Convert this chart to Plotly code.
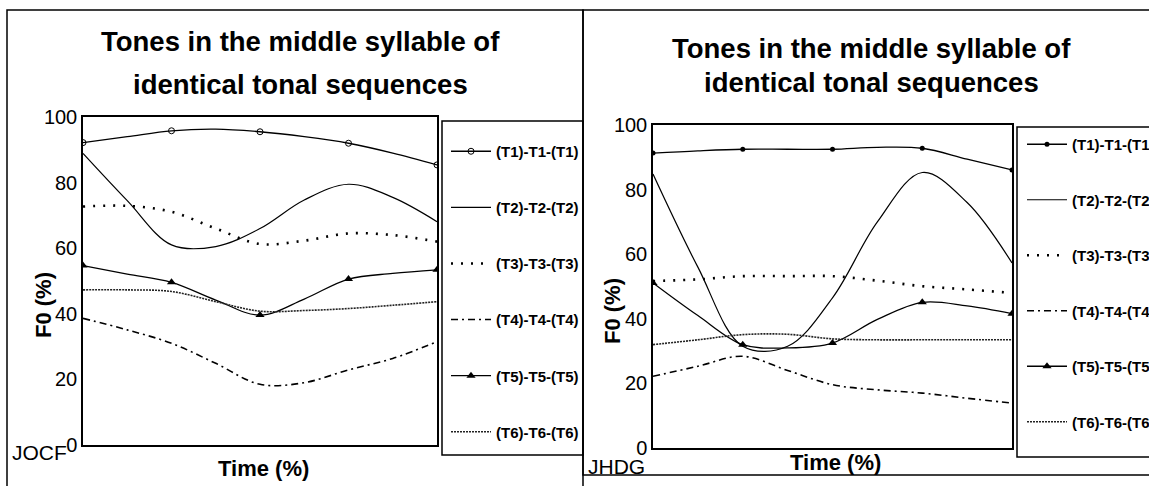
import plotly.graph_objects as go

W, H = 1149, 486

# ---------------- data ----------------
time_pct = [0, 12.5, 25, 37.5, 50, 62.5, 75, 87.5, 100]
series_names = ["(T1)-T1-(T1)", "(T2)-T2-(T2)", "(T3)-T3-(T3)",
                "(T4)-T4-(T4)", "(T5)-T5-(T5)", "(T6)-T6-(T6)"]

# speaker JOCF (left panel)
jocf_t1 = [92.2, 94.0, 95.8, 96.3, 95.5, 94.0, 92.0, 89.0, 85.4]
jocf_t2 = [88.9, 74.5, 61.0, 60.5, 66.0, 74.7, 79.5, 75.5, 68.1]
jocf_t3 = [72.7, 72.9, 71.1, 66.0, 61.3, 62.3, 64.5, 64.0, 62.0]
jocf_t4 = [38.6, 35.1, 31.0, 24.9, 18.5, 19.0, 22.9, 26.4, 31.5]
jocf_t5 = [54.7, 52.1, 49.6, 44.2, 39.6, 44.5, 50.6, 52.3, 53.4]
jocf_t6 = [47.3, 47.3, 46.8, 43.7, 40.8, 41.0, 41.6, 42.6, 43.7]

# speaker JHDG (right panel)
jhdg_t1 = [91.3, 92.0, 92.5, 92.5, 92.5, 93.1, 92.8, 89.4, 86.1]
jhdg_t2 = [84.8, 56.0, 31.5, 31.5, 46.5, 70.0, 85.3, 76.0, 57.3]
jhdg_t3 = [51.7, 52.2, 53.2, 53.2, 53.2, 51.8, 50.1, 49.1, 48.0]
jhdg_t4 = [22.2, 25.3, 28.4, 24.0, 19.6, 18.0, 17.0, 15.4, 13.9]
jhdg_t5 = [51.1, 41.0, 32.0, 31.0, 32.5, 39.8, 45.1, 44.0, 41.6]
jhdg_t6 = [32.0, 33.5, 35.1, 35.2, 33.8, 33.5, 33.5, 33.5, 33.5]

y_ticks = [0, 20, 40, 60, 80, 100]
title_lines = ["Tones in the middle syllable of", "identical tonal sequences"]
speakers = ["JOCF", "JHDG"]

# ---------------- style ----------------
SANS = "Liberation Sans, Arial, sans-serif"


def px_x(p):
    return p / W


def px_y(p):
    return 1 - p / H


def key_symbols(sym):
    # marker only at the five measurement points, invisible elsewhere
    return [sym if i % 2 == 0 else "line-ns" for i in range(len(time_pct))]


styles = [
    dict(line=dict(color="black", width=1.3), mode="lines+markers", sym="circle-open", size=6),
    dict(line=dict(color="black", width=1.2), mode="lines", sym=None, size=0),
    dict(line=dict(color="black", width=2.6, dash="2px,8px"), mode="lines", sym=None, size=0),
    dict(line=dict(color="black", width=1.6, dash="7px,4px,2px,4px"), mode="lines", sym=None, size=0),
    dict(line=dict(color="black", width=1.3), mode="lines+markers", sym="triangle-up", size=8),
    dict(line=dict(color="#222222", width=1.6, dash="2px,1px"), mode="lines", sym=None, size=0),
]
styles_right = [dict(s) for s in styles]
styles_right[0] = dict(line=dict(color="black", width=1.3), mode="lines+markers", sym="circle", size=5)

fig = go.Figure()

panels = [
    ([jocf_t1, jocf_t2, jocf_t3, jocf_t4, jocf_t5, jocf_t6], "x", "y", "legend", styles),
    ([jhdg_t1, jhdg_t2, jhdg_t3, jhdg_t4, jhdg_t5, jhdg_t6], "x2", "y2", "legend2", styles_right),
]

for pi, (data, xa, ya, lg, sty) in enumerate(panels):
    for i, (name, vals) in enumerate(zip(series_names, data)):
        s = sty[i]
        kw = dict(x=time_pct, y=vals, name=name, xaxis=xa, yaxis=ya, legend=lg,
                  legendgroup=f"{lg}_{i}", mode=s["mode"],
                  line=dict(shape="spline", smoothing=1.0, **s["line"]),
                  hoverinfo="skip")
        if s["sym"]:
            kw["marker"] = dict(symbol=key_symbols(s["sym"]), size=s["size"],
                                color="black", line=dict(width=0))
        fig.add_trace(go.Scatter(**kw))

axis_common = dict(range=[0, 100], showgrid=False, zeroline=False, showline=True,
                   linecolor="black", linewidth=1.5, mirror=True)

left_dom_x = [px_x(83), px_x(437)]
left_dom_y = [px_y(445), px_y(117)]
right_dom_x = [px_x(653), px_x(1012)]
right_dom_y = [px_y(448), px_y(125)]

tickfont = dict(family=SANS, size=20, color="black")
legfont = dict(family=SANS, size=15, color="black", weight="bold")

fig.update_layout(
    width=W, height=H,
    margin=dict(l=0, r=0, t=0, b=0, autoexpand=False),
    paper_bgcolor="white", plot_bgcolor="white",
    xaxis=dict(domain=left_dom_x, showticklabels=False, ticks="", anchor="y", **axis_common),
    yaxis=dict(domain=left_dom_y, anchor="x", tickvals=y_ticks, ticks="", tickfont=tickfont,
               **axis_common),
    xaxis2=dict(domain=right_dom_x, showticklabels=False, ticks="", anchor="y2", **axis_common),
    yaxis2=dict(domain=right_dom_y, anchor="x2", tickvals=y_ticks, ticks="", tickfont=tickfont,
                **axis_common),
    legend=dict(x=px_x(446), y=px_y(135), xanchor="left", yanchor="top",
                bgcolor="rgba(0,0,0,0)", borderwidth=0, tracegroupgap=33.6,
                itemwidth=40, font=legfont),
    legend2=dict(x=px_x(1022), y=px_y(128), xanchor="left", yanchor="top",
                 bgcolor="rgba(0,0,0,0)", borderwidth=0, tracegroupgap=33,
                 itemwidth=40, font=legfont),
    showlegend=True,
)

# panel frames and legend boxes
frames = [
    (7, 10, 583, 495),
    (583, 10, 1160, 475),
    (442, 121, 583, 455),
    (1017, 127, 1160, 457),
]
for x0, y0, x1, y1 in frames:
    fig.add_shape(type="rect", xref="paper", yref="paper",
                  x0=px_x(x0), x1=px_x(x1), y0=px_y(y1), y1=px_y(y0),
                  line=dict(color="black", width=1.5), fillcolor="rgba(0,0,0,0)", layer="above")

ann = []
# titles
for cx, ys in [(300, (41, 84)), (871, (48, 82))]:
    for line, yy in zip(title_lines, ys):
        ann.append(dict(text=line, x=px_x(cx), y=px_y(yy), xanchor="center", yanchor="middle",
                        font=dict(family=SANS, size=27.5, color="black", weight="bold")))
# axis titles
for cx, cy in [(43, 305), (612, 311)]:
    ann.append(dict(text="F0 (%)", x=px_x(cx), y=px_y(cy), textangle=-90,
                    xanchor="center", yanchor="middle",
                    font=dict(family=SANS, size=22, color="black", weight="bold")))
for cx, cy in [(263, 468), (835, 462)]:
    ann.append(dict(text="Time (%)", x=px_x(cx), y=px_y(cy), xanchor="center", yanchor="middle",
                    font=dict(family=SANS, size=22, color="black", weight="bold")))
# speaker labels
for sp, lx, cy in [(speakers[0], 10, 452), (speakers[1], 586, 466)]:
    ann.append(dict(text=sp, x=px_x(lx), y=px_y(cy), xanchor="left", yanchor="middle",
                    font=dict(family=SANS, size=21, color="black")))

for a in ann:
    a.update(xref="paper", yref="paper", showarrow=False)
fig.update_layout(annotations=ann)

fig.write_html(
    "out.html",
    config={"displayModeBar": False},
    post_script="document.body.style.margin='0';document.body.style.overflow='hidden';"
                "document.documentElement.style.overflow='hidden';",
)
